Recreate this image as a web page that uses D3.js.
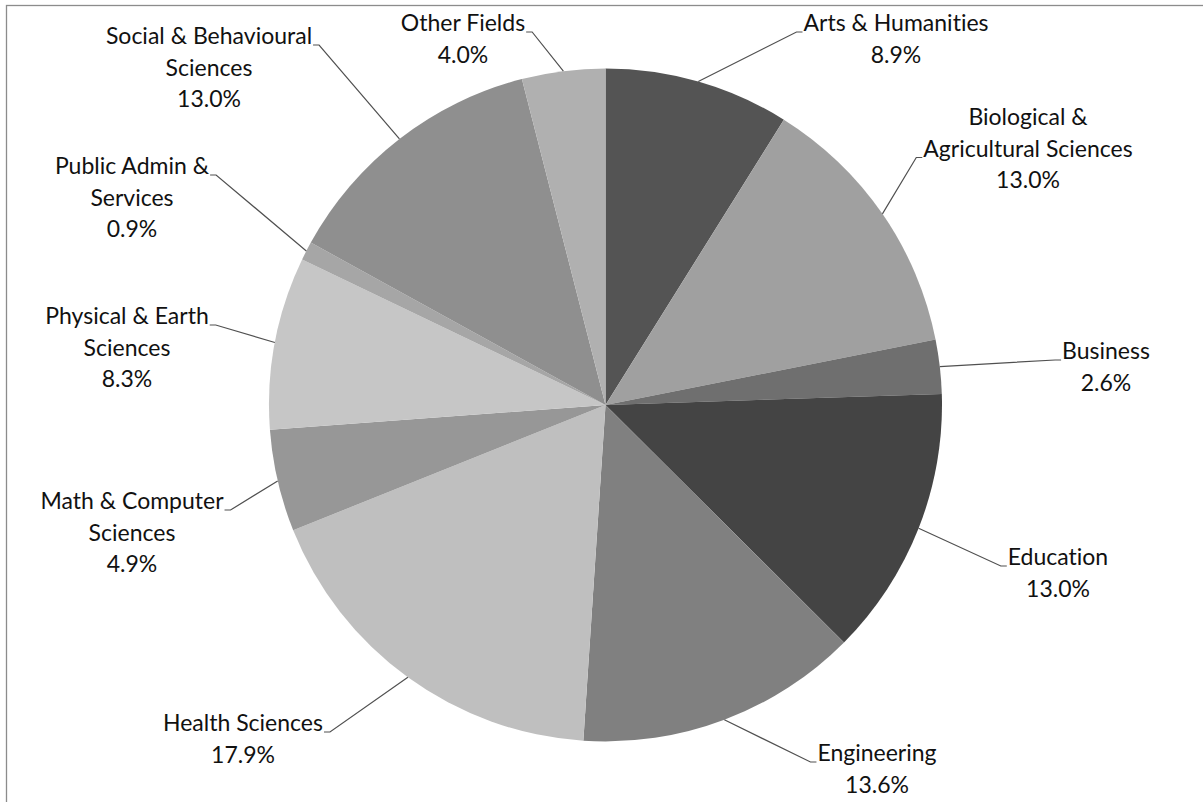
<!DOCTYPE html>
<html>
<head>
<meta charset="utf-8">
<script src="https://cdn.jsdelivr.net/npm/d3@7"></script>
<style>
  html, body { margin: 0; padding: 0; background: #fff; }
  svg { display: block; }
  .label text { font-family: Lato, "Open Sans", sans-serif; font-size: 23px; fill: #111;
                font-variant-ligatures: none; }
</style>
</head>
<body>
<svg id="chart" width="1203" height="802"></svg>
<script>
// field of study, clockwise from 12 o'clock
const categories = [
  "Arts & Humanities", "Biological & Agricultural Sciences", "Business", "Education",
  "Engineering", "Health Sciences", "Math & Computer Sciences", "Physical & Earth Sciences",
  "Public Admin & Services", "Social & Behavioural Sciences", "Other Fields"
];
const shares = [8.9, 13.0, 2.6, 13.0, 13.6, 17.9, 4.9, 8.3, 0.9, 13.0, 4.0];
const labelLines = [
  ["Arts & Humanities"], ["Biological &", "Agricultural Sciences"], ["Business"], ["Education"],
  ["Engineering"], ["Health Sciences"], ["Math & Computer", "Sciences"], ["Physical & Earth", "Sciences"],
  ["Public Admin &", "Services"], ["Social & Behavioural", "Sciences"], ["Other Fields"]
];

// styling / layout
const greys = ["#545454", "#a0a0a0", "#6f6f6f", "#444444", "#808080", "#bfbfbf",
               "#979797", "#c6c6c6", "#a6a6a6", "#8f8f8f", "#b0b0b0"];
// label centre (x, first line y) and which line the leader attaches to
const labelAt = [[896, 23], [1028, 117], [1106, 351], [1058, 557], [877, 753], [243, 723],
                 [132, 501], [127, 316], [132, 166], [209, 36], [463, 23]];
const attachLine = [0, 1, 0, 0, 0, 0, 0, 0, 0, 0, 0];
const lineGap = 31.5;

const cx = 605.5, cy = 405, r = 336.5;
const svg = d3.select("#chart");

// frame (only top/left edges are in view)
svg.append("rect")
   .attr("x", 6.5).attr("y", 5.5)
   .attr("width", 1300).attr("height", 900)
   .attr("fill", "none").attr("stroke", "#8c8c8c").attr("stroke-width", 1.3);

const data = categories.map((c, i) => ({ name: c, value: shares[i], i: i }));
const pie = d3.pie().sort(null).value(d => d.value);
const arcs = pie(data);
const arc = d3.arc().innerRadius(0).outerRadius(r);
const edge = d3.arc().innerRadius(r).outerRadius(r);

const g = svg.append("g").attr("transform", `translate(${cx},${cy})`);
g.selectAll("path.slice")
 .data(arcs)
 .enter().append("path")
 .attr("class", "slice")
 .attr("d", arc)
 .attr("fill", d => greys[d.data.i]);

const fmt = d3.format(".1f");
const labels = svg.selectAll(".label")
  .data(arcs)
  .enter().append("g")
  .attr("class", "label");

labels.each(function(d) {
  const i = d.data.i;
  const grp = d3.select(this);
  const lines = labelLines[i].concat([fmt(d.data.value) + "%"]);
  const [lx, ly] = labelAt[i];
  const texts = grp.selectAll("text")
    .data(lines)
    .enter().append("text")
    .attr("x", lx)
    .attr("y", (t, k) => ly + k * lineGap)
    .attr("dy", "0.36em")
    .attr("text-anchor", "middle")
    .text(t => t);

  // leader line: slice edge -> short horizontal tick at the label
  const k = attachLine[i];
  const w = texts.nodes()[k].getComputedTextLength();
  const right = lx > cx;
  const ty = ly + k * lineGap + 9;
  const tx = right ? lx - w / 2 - 1 : lx + w / 2 + 1;
  const kx = right ? tx - 6 : tx + 6;
  const [ex, ey] = edge.centroid(d);
  grp.insert("path", "text")
     .attr("d", `M${cx + ex},${cy + ey} L${kx},${ty} L${tx},${ty}`)
     .attr("fill", "none")
     .attr("stroke", "#505050")
     .attr("stroke-width", 1.2);
});
</script>
</body>
</html>
